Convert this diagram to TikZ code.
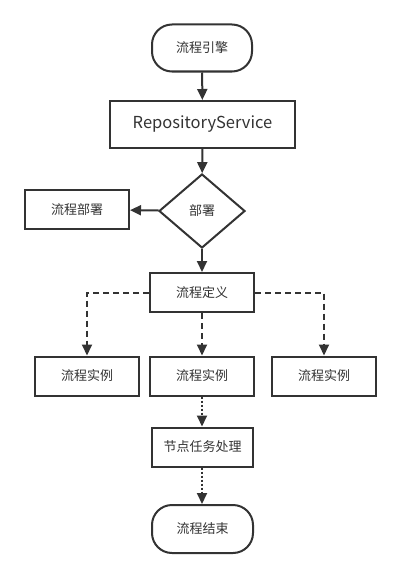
\documentclass[tikz,border=0pt]{standalone}
\usepackage{fontspec}
\setmainfont{Noto Sans CJK SC}
\usetikzlibrary{arrows.meta,shapes.geometric}
\definecolor{ln}{HTML}{333333}
\begin{document}
\begin{tikzpicture}[x=1pt,y=-1pt,
  box/.style={draw=ln,line width=2pt,rectangle,minimum width=104pt,minimum height=39pt,inner sep=0pt,font=\fontsize{13pt}{15pt}\selectfont,text=ln},
  term/.style={box,rounded corners=20pt,minimum width=100pt,minimum height=47pt},
  arr/.style={draw=ln,line width=2pt,-{Triangle[length=11pt,width=10pt]}},
  darr/.style={arr,dash pattern=on 6pt off 4pt},
  dotarr/.style={arr,dash pattern=on 2pt off 2pt}]
\useasboundingbox (0,0) rectangle (401,578);
\node[term] (start) at (202,48) {流程引擎};
\node[box,minimum width=185pt,minimum height=47pt,font=\fontsize{16.5pt}{18pt}\selectfont] (repo) at (202.5,124.5) {RepositoryService};
\node[draw=ln,line width=2pt,diamond,minimum width=86pt,minimum height=74pt,inner sep=0pt,font=\fontsize{13pt}{15pt}\selectfont,text=ln] (dep) at (202,211) {部署};
\node[box] (deploy) at (77,209.5) {流程部署};
\node[box] (def) at (202,292.5) {流程定义};
\node[box] (i1) at (87,376) {流程实例};
\node[box] (i2) at (202,376) {流程实例};
\node[box] (i3) at (324,376) {流程实例};
\node[box,minimum width=101pt] (task) at (202.5,447) {节点任务处理};
\node[term,minimum width=101pt,minimum height=48pt] (end) at (202.5,529) {流程结束};
\draw[arr] (start) -- (repo);
\draw[arr] (repo) -- (dep);
\draw[arr] (dep) -- (deploy);
\draw[arr] (dep) -- (def);
\draw[darr] (def.west) -| (i1.north);
\draw[darr] (def.east) -| (i3.north);
\draw[darr] (def) -- (i2);
\draw[dotarr] (i2) -- (task.north -| i2);
\draw[dotarr] (task.south -| i2) -- (end.north -| i2);
\end{tikzpicture}
\end{document}
